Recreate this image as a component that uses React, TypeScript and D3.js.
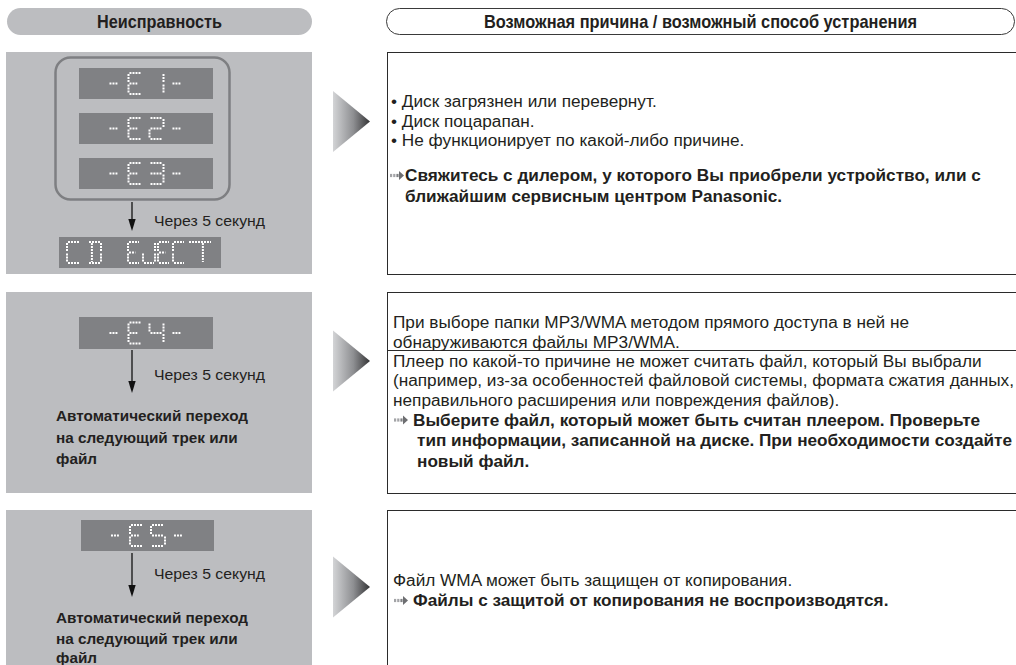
import React, { useRef, useEffect } from 'react';
import * as d3 from 'd3';

// Заголовки таблицы
const faultHeader = 'Неисправность';
const causeHeader = 'Возможная причина / возможный способ устранения';

// Индикация на дисплее
const errorCodes1 = ['-E1-', '-E2-', '-E3-'];
const errorCodes2 = ['-E4-'];
const errorCodes3 = ['-E5-'];
const ejectWords = ['CD', 'EJECT'];
const delayLabel = 'Через 5 секунд';
const autoSkipLines = ['Автоматический переход', 'на следующий трек или', 'файл'];

// Причины и способы устранения
const causes1 = [
  '• Диск загрязнен или перевернут.',
  '• Диск поцарапан.',
  '• Не функционирует по какой-либо причине.',
];
const remedy1 = [
  'Свяжитесь с дилером, у которого Вы приобрели устройство, или с',
  'ближайшим сервисным центром Panasonic.',
];
const causes2a = [
  'При выборе папки MP3/WMA методом прямого доступа в ней не',
  'обнаруживаются файлы MP3/WMA.',
];
const causes2b = [
  'Плеер по какой-то причине не может считать файл, который Вы выбрали',
  '(например, из-за особенностей файловой системы, формата сжатия данных,',
  'неправильного расширения или повреждения файлов).',
];
const remedy2 = [
  'Выберите файл, который может быть считан плеером. Проверьте',
  'тип информации, записанной на диске. При необходимости создайте',
  'новый файл.',
];
const causes3 = ['Файл WMA может быть защищен от копирования.'];
const remedy3 = ['Файлы с защитой от копирования не воспроизводятся.'];

// Стили
const BODY_FONT = '"Liberation Sans", Arial, Helvetica, sans-serif';
const NARROW_FONT = '"Liberation Sans Narrow", "Arial Narrow", "Liberation Sans", sans-serif';
const INK = '#231f20';
const PANEL = '#bcbdc0';
const LCD = '#808184';

// Сегменты индикатора (в единичной ячейке)
const SEGMENTS: Record<string, number[][]> = {
  a: [[0, 0], [1, 0]],
  b: [[1, 0], [1, 0.5]],
  c: [[1, 0.5], [1, 1]],
  d: [[0, 1], [1, 1]],
  e: [[0, 0.5], [0, 1]],
  f: [[0, 0], [0, 0.5]],
  g: [[0, 0.5], [1, 0.5]],
  gs: [[0, 0.5], [0.7, 0.5]],
  dash: [[0.07, 0.5], [0.78, 0.5]],
  k: [[0.3, 0], [0.3, 1]],
  t: [[0.62, 0], [0.62, 1]],
};
const GLYPHS: Record<string, string[]> = {
  '-': ['dash'],
  E: ['a', 'd', 'e', 'f', 'gs'],
  '1': ['b', 'c'],
  '2': ['a', 'b', 'g', 'e', 'd'],
  '3': ['a', 'b', 'g', 'c', 'd'],
  '4': ['f', 'g', 'b', 'c'],
  '5': ['a', 'f', 'g', 'c', 'd'],
  C: ['a', 'f', 'e', 'd'],
  D: ['a', 'b', 'c', 'd', 'k'],
  J: ['b', 'c', 'd', 'e'],
  T: ['a', 't'],
};

const App = () => {
  const svgRef = useRef<SVGSVGElement>(null);
  const width = 1016;
  const height = 665;

  useEffect(() => {
    document.body.style.margin = '0';
    const svg = d3.select(svgRef.current);
    svg.selectAll('*').remove();

    // Коэффициент сжатия шрифта по эталонной строке
    const measure = (sample: string, weight: string, size: number) => {
      const t = svg.append('text')
        .attr('font-family', BODY_FONT)
        .attr('font-weight', weight)
        .attr('font-size', size)
        .text(sample);
      const w = (t.node() as SVGTextElement).getComputedTextLength();
      t.remove();
      return w;
    };
    const BODY_SIZE = 16;
    const BOLD_SIZE = 16;
    const LEFT_SIZE = 15;
    const bodyRatio = 621 / measure(causes2b[1], 'normal', BODY_SIZE);
    const boldRatio = 595 / measure(remedy2[1], 'bold', BOLD_SIZE);
    const leftRatio = 111 / measure(delayLabel, 'normal', LEFT_SIZE);
    const leftBoldRatio = 192 / measure(autoSkipLines[0], 'bold', LEFT_SIZE);

    const addText = (str: string, x: number, y: number, weight: string, size: number, ratio: number) => {
      const natural = measure(str, weight, size);
      svg.append('text')
        .attr('x', x).attr('y', y)
        .attr('font-family', BODY_FONT)
        .attr('font-weight', weight)
        .attr('font-size', size)
        .attr('textLength', natural * ratio)
        .attr('lengthAdjust', 'spacingAndGlyphs')
        .attr('fill', INK)
        .text(str);
    };

    const defs = svg.append('defs');
    const grad = defs.append('linearGradient').attr('id', 'tri-grad')
      .attr('x1', 0).attr('x2', 1).attr('y1', 0).attr('y2', 0);
    grad.append('stop').attr('offset', '0%').attr('stop-color', '#d3d4d6');
    grad.append('stop').attr('offset', '55%').attr('stop-color', '#8e8f92');
    grad.append('stop').attr('offset', '100%').attr('stop-color', '#343436');

    svg.append('rect').attr('width', width).attr('height', height).attr('fill', '#fff');

    // Заголовки
    svg.append('rect')
      .attr('x', 7).attr('y', 8).attr('width', 305).attr('height', 27).attr('rx', 13.5)
      .attr('fill', PANEL);
    svg.append('text')
      .attr('x', 159.5).attr('y', 27.5)
      .attr('text-anchor', 'middle')
      .attr('font-family', NARROW_FONT).attr('font-weight', 'bold').attr('font-size', 18.5)
      .attr('textLength', 125).attr('lengthAdjust', 'spacingAndGlyphs')
      .attr('fill', INK)
      .text(faultHeader);

    svg.append('rect')
      .attr('x', 386.5).attr('y', 8.5).attr('width', 628).attr('height', 26).attr('rx', 13)
      .attr('fill', '#fff').attr('stroke', '#3a3a3a').attr('stroke-width', 1);
    svg.append('text')
      .attr('x', 700.5).attr('y', 27.5)
      .attr('text-anchor', 'middle')
      .attr('font-family', NARROW_FONT).attr('font-weight', 'bold').attr('font-size', 18.5)
      .attr('textLength', 433).attr('lengthAdjust', 'spacingAndGlyphs')
      .attr('fill', INK)
      .text(causeHeader);

    // Строки таблицы
    const rows = [
      { top: 52, bottom: 274, tri: 121.5 },
      { top: 292, bottom: 493, tri: 361 },
      { top: 510, bottom: 700, tri: 587 },
    ];

    rows.forEach((r) => {
      svg.append('rect')
        .attr('x', 6).attr('y', r.top).attr('width', 306).attr('height', r.bottom - r.top)
        .attr('fill', PANEL);
      svg.append('rect')
        .attr('x', 387.5).attr('y', r.top + 0.5).attr('width', 660).attr('height', r.bottom - r.top)
        .attr('fill', '#fff').attr('stroke', '#2b2b2b').attr('stroke-width', 1);
      const tx = d3.scaleLinear().domain([0, 1]).range([333, 370]);
      const ty = d3.scaleLinear().domain([0, 1]).range([r.tri - 30.5, r.tri + 30.5]);
      svg.append('path')
        .attr('d', d3.line()([[tx(0), ty(0)], [tx(1), ty(0.5)], [tx(0), ty(1)]]) + 'Z')
        .attr('fill', 'url(#tri-grad)');
    });

    // Разделитель во втором блоке
    svg.append('line')
      .attr('x1', 387.5).attr('x2', width).attr('y1', 350.5).attr('y2', 350.5)
      .attr('stroke', '#2b2b2b').attr('stroke-width', 1);

    // Рамка вокруг E1–E3
    svg.append('rect')
      .attr('x', 55.5).attr('y', 57.5).attr('width', 174).attr('height', 142).attr('rx', 15)
      .attr('fill', 'none').attr('stroke', '#7e7f82').attr('stroke-width', 2.5);

    // Сегментный индикатор
    const drawGlyphs = (text: string, x0: number, top: number, pitch: number, w: number, h: number) => {
      text.split('').forEach((ch, i) => {
        const gx = x0 + i * pitch;
        const gw = ch === 'T' ? w * 2 : w;
        const sx = d3.scaleLinear().domain([0, 1]).range([gx, gx + gw]);
        const sy = d3.scaleLinear().domain([0, 1]).range([top, top + h]);
        (GLYPHS[ch] || []).forEach((s) => {
          const [[x1, y1], [x2, y2]] = SEGMENTS[s];
          const horiz = y1 === y2;
          const inset = 1;
          svg.append('line')
            .attr('x1', sx(x1) + (horiz ? inset : 0))
            .attr('x2', sx(x2) - (horiz ? inset : 0))
            .attr('y1', sy(y1) + (horiz ? 0 : inset))
            .attr('y2', sy(y2) - (horiz ? 0 : inset))
            .attr('stroke', '#ffffff')
            .attr('stroke-width', 2)
            .attr('stroke-dasharray', '2,1');
        });
      });
    };

    const drawDisplay = (code: string, x: number, y: number, w: number, h: number) => {
      svg.append('rect').attr('x', x).attr('y', y).attr('width', w).attr('height', h).attr('fill', LCD);
      const pitch = 21;
      const gw = 14;
      const total = (code.length - 1) * pitch + gw;
      drawGlyphs(code, x + (w - total) / 2, y + (h - 21) / 2, pitch, gw, 21);
    };

    const codeY = d3.scalePoint<string>().domain(errorCodes1).range([68, 158]);
    errorCodes1.forEach((c) => drawDisplay(c, 79, codeY(c) as number, 134, 31));
    errorCodes2.forEach((c) => drawDisplay(c, 79, 317, 134, 32));
    errorCodes3.forEach((c) => drawDisplay(c, 81, 520, 133, 31));

    // CD EJECT
    svg.append('rect').attr('x', 59).attr('y', 237).attr('width', 162).attr('height', 31).attr('fill', LCD);
    drawGlyphs(ejectWords[0], 67, 242, 21, 13, 21);
    drawGlyphs(ejectWords[1], 128, 242, 15, 12, 21);

    // Стрелки «Через 5 секунд»
    const arrows = [
      { y1: 202, y2: 231, label: 225.5 },
      { y1: 350, y2: 393, label: 379.5 },
      { y1: 553, y2: 597, label: 578.5 },
    ];
    arrows.forEach((a) => {
      svg.append('line')
        .attr('x1', 132).attr('x2', 132).attr('y1', a.y1).attr('y2', a.y2 - 8)
        .attr('stroke', '#111').attr('stroke-width', 1.3);
      svg.append('path')
        .attr('d', `M128.3,${a.y2 - 12}L135.7,${a.y2 - 12}L132,${a.y2}Z`)
        .attr('fill', '#111');
      addText(delayLabel, 154, a.label, 'normal', LEFT_SIZE, leftRatio);
    });

    // Автоматический переход
    const skipBase = [[421, 443, 464], [623, 644, 663]];
    skipBase.forEach((bases) => {
      autoSkipLines.forEach((line, i) => {
        addText(line, 56, bases[i], 'bold', LEFT_SIZE, leftBoldRatio);
      });
    });

    // Текстовые блоки справа
    const drawLines = (lines: string[], xFirst: number, xRest: number, y0: number, step: number, bold: boolean) => {
      lines.forEach((line, i) => {
        addText(
          line,
          i === 0 ? xFirst : xRest,
          y0 + i * step,
          bold ? 'bold' : 'normal',
          bold ? BOLD_SIZE : BODY_SIZE,
          bold ? boldRatio : bodyRatio,
        );
      });
    };

    const drawMarker = (x: number, baseline: number) => {
      const cy = baseline - 5.5;
      const g = svg.append('g');
      [0, 3.2, 6.4].forEach((dx, i) => {
        g.append('rect')
          .attr('x', x + dx).attr('y', cy - 1.6).attr('width', 2.2).attr('height', 3.2)
          .attr('fill', i === 2 ? '#7f8083' : '#a3a4a7');
      });
      g.append('path')
        .attr('d', `M${x + 9},${cy - 4.5}L${x + 14},${cy}L${x + 9},${cy + 4.5}Z`)
        .attr('fill', '#6d6e71');
    };

    drawLines(causes1, 391, 391, 107, 19.5, false);
    drawMarker(390, 181);
    drawLines(remedy1, 405, 405, 181, 21, true);

    drawLines(causes2a, 393, 393, 328, 19.5, false);
    drawLines(causes2b, 393, 393, 366.5, 19.5, false);
    drawMarker(394, 425.5);
    drawLines(remedy2, 413, 417, 425.5, 20.5, true);

    drawLines(causes3, 393, 393, 585.5, 20.5, false);
    drawMarker(394, 606);
    drawLines(remedy3, 413, 413, 606, 20, true);
  }, []);

  return (
    <svg
      ref={svgRef}
      width={width}
      height={height}
      style={{ display: 'block' }}
    />
  );
};

export default App;
